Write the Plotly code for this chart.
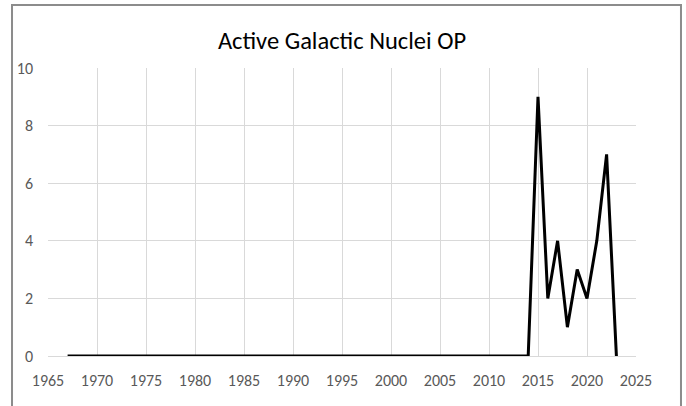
"""Active Galactic Nuclei OP - yearly counts as an Excel-style line chart."""

import plotly.graph_objects as go

years = list(range(1967, 2024))
counts_recent = [9, 2, 4, 1, 3, 2, 4, 7, 0]  # 2015 .. 2023
counts = [0] * (2015 - 1967) + counts_recent

x_ticks = list(range(1965, 2030, 5))
y_ticks = [0, 2, 4, 6, 8, 10]

title_text = "Active Galactic Nuclei OP"

FONT = "Calibri, Carlito, Lato, sans-serif"
GRID = "#d9d9d9"
TICK = "#595959"

fig = go.Figure()

fig.add_trace(
	go.Scatter(
		x=years,
		y=counts,
		mode="lines",
		line=dict(color="#000000", width=3),
		cliponaxis=False,
		hoverinfo="x+y",
		showlegend=False,
	)
)

# chart-area border, like the Excel frame
fig.add_shape(
	type="rect",
	xref="paper",
	yref="paper",
	x0=-0.0612,
	x1=1.0765,
	y0=-0.4,
	y1=1.2188,
	line=dict(color="#8c8c8c", width=2),
	fillcolor="rgba(0,0,0,0)",
	layer="below",
)

fig.update_layout(
	width=686,
	height=406,
	margin=dict(l=48, r=50, t=68, b=50),
	paper_bgcolor="white",
	plot_bgcolor="white",
	font=dict(family=FONT, color=TICK, size=16),
	title=dict(
		text=title_text,
		x=0.5,
		xref="paper",
		y=0.9,
		yref="container",
		yanchor="middle",
		xanchor="center",
		font=dict(family=FONT, size=24.5, color="#000000"),
	),
	xaxis=dict(
		range=[1965, 2025],
		tickvals=x_ticks,
		showgrid=True,
		gridcolor=GRID,
		gridwidth=1,
		showline=True,
		linecolor=GRID,
		linewidth=1,
		zeroline=False,
		ticks="",
		ticklabelstandoff=10,
		tickfont=dict(size=16, color=TICK),
	),
	yaxis=dict(
		range=[0, 10],
		tickvals=y_ticks,
		showgrid=True,
		gridcolor=GRID,
		gridwidth=1,
		showline=False,
		zeroline=False,
		ticks="",
		ticklabelstandoff=14,
		tickfont=dict(size=16, color=TICK),
	),
)

# drop the default page margin so the figure sits at the window's corner
fig.write_html(
	"out.html",
	config={"displayModeBar": False},
	post_script="document.body.style.margin='0';document.body.style.overflow='hidden';",
)
